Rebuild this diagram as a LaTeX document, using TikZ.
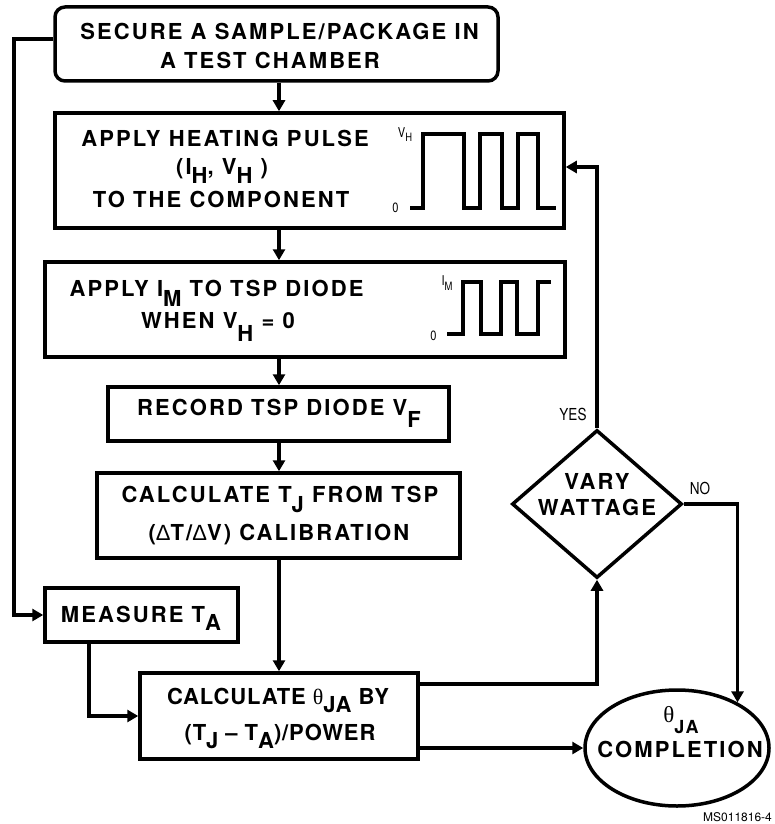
\documentclass[tikz,border=0pt]{standalone}
\usepackage{fontspec}
\setmainfont{TeX Gyre Heros}
\newfontfamily\bxf{TeX Gyre Heros}[LetterSpace=9.5]
\newfontfamily\bxn{TeX Gyre Heros}[LetterSpace=4]
\newfontfamily\labf{TeX Gyre Heros}[FakeStretch=0.82]
\newfontfamily\grk{Liberation Serif}
\newfontfamily\grks{Liberation Sans}
\usetikzlibrary{shapes.geometric,arrows.meta}
\newcommand{\dn}[2][9pt]{\raisebox{-#1}[0pt][0pt]{#2}}
\begin{document}
\begin{tikzpicture}[x=1pt,y=-1pt,
  bx/.style={draw, line width=3.5pt, inner sep=0pt},
  tx/.style={anchor=base, inner sep=0pt, font=\bxf\bfseries\fontsize{22}{23}\selectfont},
  txn/.style={anchor=base, inner sep=0pt, font=\bxn\bfseries\fontsize{22}{23}\selectfont},
  lab/.style={anchor=base, inner sep=0pt, font=\labf\fontsize{16.5}{17}\selectfont},
  slab/.style={anchor=base, inner sep=0pt, font=\labf\fontsize{13.5}{14}\selectfont},
  arr/.style={line width=3.1pt, -{Triangle[length=11pt,width=12pt]}},
  wave/.style={line width=3.3pt}
]
\useasboundingbox (0,0) rectangle (774,824);

% boxes
\node[bx, rounded corners=10pt, minimum width=443pt, minimum height=74pt] (n1) at (276.5,44) {};
\node[bx, minimum width=509pt, minimum height=115pt] (n2) at (309.5,170.5) {};
\node[bx, minimum width=520pt, minimum height=95pt] (n3) at (305,309.5) {};
\node[bx, minimum width=341pt, minimum height=54pt] (n4) at (278.5,414) {};
\node[bx, minimum width=363pt, minimum height=85pt] (n5) at (278.5,515.5) {};
\node[bx, minimum width=193pt, minimum height=54pt] (meas) at (141.5,615) {};
\node[bx, minimum width=278pt, minimum height=86pt] (tb) at (279,716) {};
\node[bx, diamond, minimum width=170pt, minimum height=148pt] (dm) at (597,504) {};
\node[bx, ellipse, minimum width=184pt, minimum height=116pt] (el) at (677,748) {};

% texts
\node[tx] (t1a) at (279.5,39.5) {SECURE A SAMPLE/PACKAGE IN};
\node[tx] (t1b) at (270,68.5) {A TEST CHAMBER};
\node[tx] (t2a) at (225,146.5) {APPLY HEATING PULSE};
\node[tx] (t2b) at (222,174) {(I\dn{H}, V\dn{H} )};
\node[tx] (t2c) at (221,207) {TO THE COMPONENT};
\node[tx] (t3a) at (216.5,296.5) {APPLY I\dn[10pt]{M} TO TSP DIODE};
\node[tx] (t3b) at (218,328) {WHEN V\dn[13pt]{H} = 0};
\node[tx] (t4) at (279,415) {RECORD TSP DIODE V\dn[12pt]{F}};
\node[tx] (t5a) at (280,502) {CALCULATE T\dn[10pt]{J} FROM TSP};
\node[tx] (t5b) at (279,540) {({\grks\mdseries Δ}T/{\grks\mdseries Δ}V) CALIBRATION};
\node[tx] (tm) at (141,622) {MEASURE T\dn[8.5pt]{A}};
\node[txn] (tba) at (278,704) {CALCULATE {\grk\mdseries θ}\dn[8pt]{JA} BY};
\node[txn] (tbb) at (280,740) {(T\dn[8pt]{J} – T\dn[8pt]{A})/POWER};
\node[tx] (tda) at (597,489) {VARY};
\node[tx] (tdb) at (597,515) {WATTAGE};
\node[tx] (tea) at (681,722) {{\grk\mdseries\fontsize{23}{23}\selectfont θ}\dn[11pt]{\fontsize{18}{18}\selectfont JA}};
\node[tx] (teb) at (680,757) {COMPLETION};

% waveform labels
\node[slab] (vh) at (405,137) {V\dn[5pt]{\fontsize{11.5}{12}\selectfont H}};
\node[slab] (z1) at (395.5,212) {0};
\node[slab] (im) at (447,285) {I\dn[5pt]{\fontsize{11.5}{12}\selectfont M}};
\node[slab] (z2) at (433.5,340) {0};
\node[lab] (yes) at (573,420) {YES};
\node[lab] (no) at (700,494) {NO};
\node[anchor=base west, inner sep=0pt, font=\fontsize{12}{13}\selectfont] (ms) at (703,821) {MS011816-4};

% waveforms
\draw[wave] (410,208) -- (423,208) -- (423,134) -- (464,134) -- (464,208) -- (480,208) -- (480,134) -- (502,134) -- (502,208) -- (518,208) -- (518,134) -- (538,134) -- (538,208) -- (556,208);
\draw[wave] (447,334) -- (463,334) -- (463,282) -- (481,282) -- (481,334) -- (501,334) -- (501,282) -- (517,282) -- (517,334) -- (538,334) -- (538,282) -- (551,282);

% helper coordinates
\coordinate (cx) at (279,0);
\coordinate (L) at (14,39);
\coordinate (mx) at (89,0);
\coordinate (y684) at (0,684);
\coordinate (y167) at (0,167);

% connectors
\draw[arr] ([yshift=5pt]n1.west) -- (L) |- (meas.west);
\draw[arr] (n1.south -| cx) -- (n2.north -| cx);
\draw[arr] (n2.south -| cx) -- (n3.north -| cx);
\draw[arr] (n3.south -| cx) -- (n4.north -| cx);
\draw[arr] (n4.south -| cx) -- (n5.north -| cx);
\draw[arr] (n5.south -| cx) -- (tb.north -| cx);
\draw[arr] (meas.south -| mx) |- (tb.west);
\draw[arr] (tb.east |- y684) -| (dm.south);
\draw[arr] (tb.east |- el.west) -- (el.west);
\draw[arr] (dm.north) |- (n2.east |- y167);
\draw[arr] (dm.east) -| (el.37.8);
\end{tikzpicture}
\end{document}
